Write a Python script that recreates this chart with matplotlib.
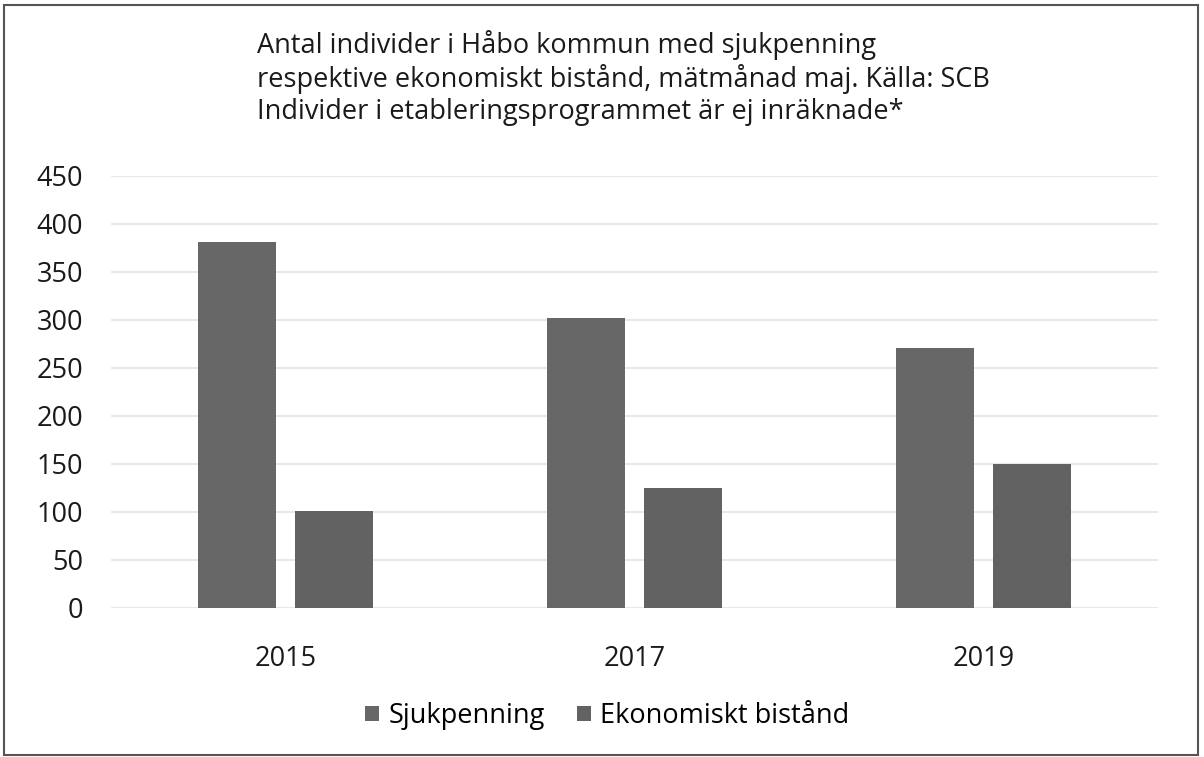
import matplotlib.pyplot as plt
import numpy as np

# Data
years = ["2015", "2017", "2019"]
sjukpenning = [381, 302, 271]
ekonomiskt_bistand = [101, 125, 150]
series_names = ["Sjukpenning", "Ekonomiskt bistånd"]
title_lines = [
    "Antal individer i Håbo kommun med sjukpenning",
    "respektive ekonomiskt bistånd, mätmånad maj. Källa: SCB",
    "Individer i etableringsprogrammet är ej inräknade*",
]

plt.rcParams["font.family"] = ["Open Sans", "DejaVu Sans"]

fig = plt.figure(figsize=(12.04, 7.57), dpi=100)
W, H = 1204, 757
# plot area in pixels: x 111..1158, y 176..608
ax = fig.add_axes([111 / W, 1 - 608 / H, (1158 - 111) / W, (608 - 176) / H])

x = np.arange(len(years))
bar_w = 0.224
off = 0.14
ax.bar(x - off, sjukpenning, bar_w, color="#676767", label=series_names[0], zorder=2)
ax.bar(x + off, ekonomiskt_bistand, bar_w, color="#626262", label=series_names[1], zorder=2)

ax.set_xlim(-0.5, 2.5)
ax.set_ylim(0, 450)
ax.set_yticks(range(0, 451, 50))
ax.yaxis.grid(True, color="#e4e4e4", linewidth=1.2, zorder=0)
for s in ax.spines.values():
    s.set_visible(False)
ax.tick_params(axis="both", length=0, labelsize=19.5, colors="#1a1a1a")
ax.tick_params(axis="y", pad=20)
ax.tick_params(axis="x", pad=27)
ax.set_xticks(x)
ax.set_xticklabels(years)

# legend sits slightly left of the plot centre in the original
leg = ax.legend(loc="center", bbox_to_anchor=(0.474, (608 - 716) / (608 - 176)),
                ncol=2, frameon=False, fontsize=19.5, handlelength=0.5,
                handleheight=0.5, handletextpad=0.35, columnspacing=1.2)

for i, line in enumerate(title_lines):
    fig.text(257 / W, 1 - (45 + i * 33.5) / H, line, fontsize=19.5,
             color="#1a1a1a", ha="left", va="center")

# outer frame of the scanned chart
fig.patches.append(plt.Rectangle((4 / W, 2 / H), (1198 - 4) / W, (752 - 2) / H,
                                 transform=fig.transFigure, fill=False,
                                 edgecolor="#555555", linewidth=1.5))

fig.savefig("out.png", dpi=100)
